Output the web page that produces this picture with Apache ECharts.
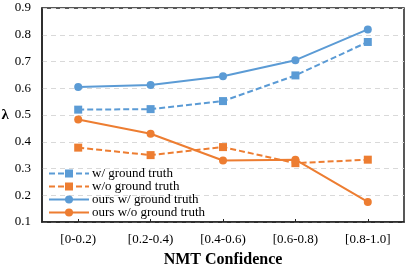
<!DOCTYPE html>
<html><head><meta charset="utf-8">
<script src="https://cdn.jsdelivr.net/npm/echarts@6/dist/echarts.min.js"></script>
<style>html,body{margin:0;padding:0;background:#fff}#c{width:409px;height:267px}</style>
</head><body><div id="c"></div>
<script>
const categories = ['[0-0.2)', '[0.2-0.4)', '[0.4-0.6)', '[0.6-0.8)', '[0.8-1.0]'];
const wGT = [0.520, 0.522, 0.552, 0.648, 0.773];
const woGT = [0.378, 0.350, 0.380, 0.320, 0.333];
const oursWGT = [0.605, 0.612, 0.645, 0.705, 0.820];
const oursWoGT = [0.483, 0.430, 0.330, 0.333, 0.175];
const yTicks = [0.1, 0.2, 0.3, 0.4, 0.5, 0.6, 0.7, 0.8, 0.9];

const BLUE = '#5B9BD5', ORANGE = '#ED7D31';
const font = 'Liberation Serif';
const chart = echarts.init(document.getElementById('c'), null, {renderer: 'canvas'});
function s(name, data, color, dashed, symbol) {
  return {name, type: 'line', data, symbol, symbolSize: 8,
    lineStyle: {color, width: 2, type: dashed ? [6, 3] : 'solid'},
    itemStyle: {color}, z: 3};
}
chart.setOption({
  animation: false,
  grid: {left: 42, right: 5, top: 8, bottom: 45, show: true, borderColor: '#222', borderWidth: 1.5,
    containLabel: false, outerBoundsMode: 'none'},
  legend: {
    orient: 'vertical', left: 48, top: 167, padding: 0, itemGap: 0, itemWidth: 40, itemHeight: 10,
    textStyle: {fontFamily: font, fontSize: 13, lineHeight: 13, height: 13, color: '#000', padding: [0,0,0,-2]},
    data: ['w/ ground truth', 'w/o ground truth', 'ours w/ ground truth', 'ours w/o ground truth']
  },
  xAxis: {
    type: 'category', data: categories, boundaryGap: true,
    name: 'NMT Confidence', nameLocation: 'middle', nameGap: 30,
    nameTextStyle: {fontFamily: font, fontSize: 16, fontWeight: 'bold', color: '#000'},
    axisLine: {lineStyle: {color: '#222', width: 1.5}},
    axisTick: {show: true, alignWithLabel: true, length: 3, inside: true, lineStyle: {color: '#222'}},
    axisLabel: {fontFamily: font, fontSize: 13, color: '#000', margin: 11}
  },
  yAxis: {
    type: 'value', min: 0.1, max: 0.9, interval: 0.1,
    name: 'λ', nameLocation: 'middle', nameGap: 33, nameRotate: 0,
    nameTextStyle: {fontFamily: font, fontSize: 15, fontWeight: 'bold', color: '#000'},
    axisLine: {show: true, lineStyle: {color: '#222', width: 1.5}},
    axisTick: {show: false},
    axisLabel: {fontFamily: font, fontSize: 13, color: '#000', margin: 11,
      formatter: v => yTicks.includes(Math.round(v*10)/10) ? (Math.round(v*10)/10).toFixed(1) : ''},
    splitLine: {show: true, lineStyle: {color: '#d9d9d9', type: [5, 4], width: 1}}
  },
  series: [
    s('w/ ground truth', wGT, BLUE, true, 'rect'),
    s('w/o ground truth', woGT, ORANGE, true, 'rect'),
    s('ours w/ ground truth', oursWGT, BLUE, false, 'circle'),
    s('ours w/o ground truth', oursWoGT, ORANGE, false, 'circle')
  ]
});
</script></body></html>
